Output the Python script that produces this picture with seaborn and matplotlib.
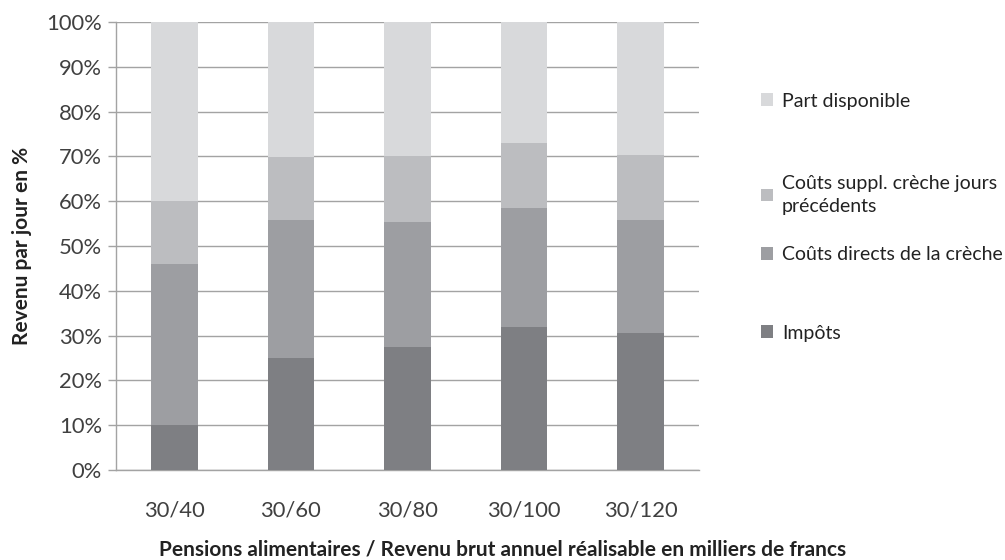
import numpy as np
import pandas as pd
import matplotlib.pyplot as plt
import seaborn as sns
from matplotlib.patches import Patch
from matplotlib.ticker import FixedLocator, PercentFormatter

categories = ['30/40', '30/60', '30/80', '30/100', '30/120']
impots = [10.0, 25.1, 27.4, 31.9, 30.5]
couts_directs = [36.0, 30.6, 28.0, 26.6, 25.2]
couts_suppl = [14.0, 14.2, 14.6, 14.5, 14.7]
part_dispo = [40.0, 30.1, 30.0, 27.0, 29.6]

series = ['Impôts', 'Coûts directs de la crèche',
          'Coûts suppl. crèche jours\nprécédents', 'Part disponible']
colors = ['#7e7f83', '#9d9ea2', '#bcbdc0', '#d8d9db']

sns.set_style('white')
plt.rcParams['font.family'] = ['Lato', 'DejaVu Sans']

df = pd.DataFrame({'cat': categories, series[0]: impots, series[1]: couts_directs,
                   series[2]: couts_suppl, series[3]: part_dispo})

fig = plt.figure(figsize=(10.05, 5.6), dpi=100)
ax = fig.add_axes([0.1154, 0.1607, 0.58, 0.8])

# stacked: draw cumulative totals from the top down
cum = df[series].cumsum(axis=1)
for s, c in reversed(list(zip(series, colors))):
    sns.barplot(x=df['cat'], y=cum[s], color=c, width=0.4, ax=ax,
                saturation=1, linewidth=0, zorder=3)

ax.set_ylim(0, 100)
ax.set_xlim(-0.5, 4.5)
ax.yaxis.set_major_locator(FixedLocator(np.arange(0, 101, 10)))
ax.yaxis.set_major_formatter(PercentFormatter(decimals=0))
ax.grid(axis='y', color='#a3a3a3', lw=1, zorder=0)
ax.set_axisbelow(True)
sns.despine(ax=ax, top=True, right=True)
for sp in ['left', 'bottom']:
    ax.spines[sp].set_color('#a3a3a3')
    ax.spines[sp].set_linewidth(1)

ax.xaxis.set_minor_locator(FixedLocator(np.arange(-0.5, 5, 1)))
ax.tick_params(axis='x', which='major', length=0, pad=22, labelsize=15.8, labelcolor='#404040')
ax.tick_params(axis='x', which='minor', length=6, color='#a3a3a3', width=1, direction='out')
ax.tick_params(axis='y', length=6, color='#a3a3a3', width=1, labelsize=15.8,
               labelcolor='#404040', pad=4, left=True)

ax.set_xlabel('Pensions alimentaires / Revenu brut annuel réalisable en milliers de francs',
              fontsize=15.0, fontweight='bold', color='#222222', va='center')
# label is centred on the whole figure, not on the plot area
ax.xaxis.set_label_coords(0.5, 1 - 549 / 560, transform=fig.transFigure)
ax.set_ylabel('Revenu par jour en %', fontsize=15.0, fontweight='bold', color='#222222', labelpad=10)

# legend entries sit at uneven heights, as in the original
legend_y = {'Part disponible': 101, 'Coûts suppl. crèche jours\nprécédents': 195,
            'Coûts directs de la crèche': 255, 'Impôts': 333}
for s, c in zip(series, colors):
    leg = fig.legend([Patch(facecolor=c, edgecolor='none')], [s], loc='center left',
                     bbox_to_anchor=(0.748, 1 - legend_y[s] / 560), frameon=False, fontsize=14,
                     handlelength=0.6, handleheight=0.6, handletextpad=0.45, borderpad=0,
                     labelcolor='#222222')
    for t in leg.get_texts():
        t.set_linespacing(1.45)

fig.savefig('out.png', dpi=100)
